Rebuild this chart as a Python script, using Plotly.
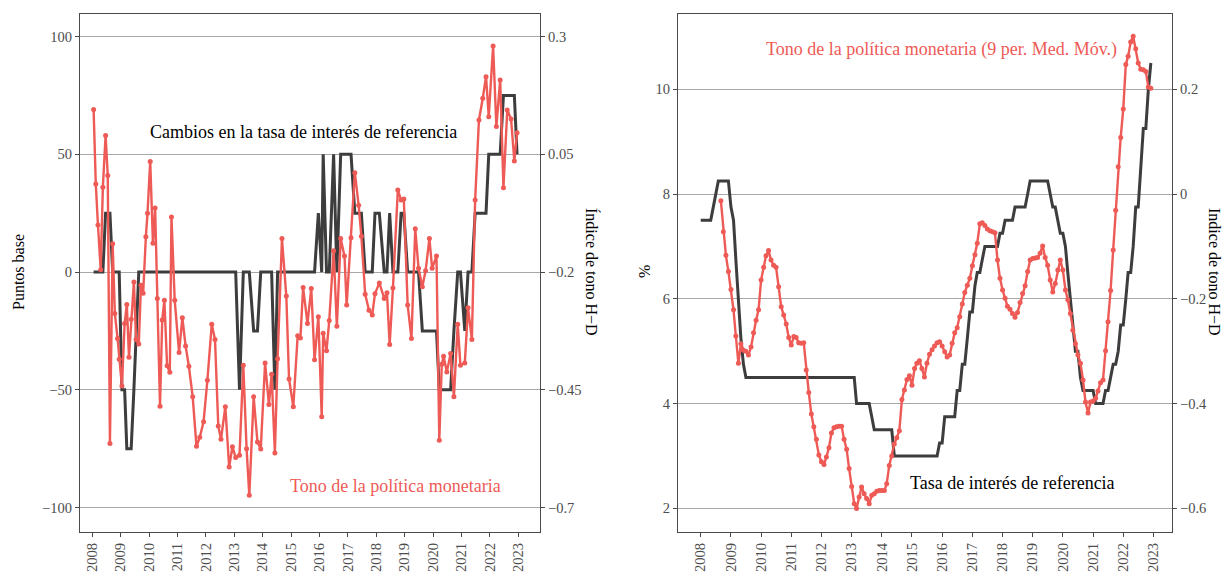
import plotly.graph_objects as go
import pandas as pd

# ---------------- data ----------------
# Left panel: monetary-policy announcement dates
meeting_dates = [
    "2008-01-18", "2008-02-15", "2008-03-14", "2008-04-18", "2008-05-16", "2008-06-20",
    "2008-07-18", "2008-08-15", "2008-09-19", "2008-10-17", "2008-11-21", "2008-12-12",
    "2009-01-16", "2009-02-20", "2009-03-20", "2009-04-17", "2009-05-15", "2009-06-19",
    "2009-07-17", "2009-08-21", "2009-09-18", "2009-10-16", "2009-11-20", "2009-12-11",
    "2010-01-15", "2010-02-19", "2010-03-19", "2010-04-16", "2010-05-21", "2010-06-18",
    "2010-07-16", "2010-08-20", "2010-09-24", "2010-10-15", "2010-11-26",
    "2011-01-21", "2011-03-04", "2011-04-15", "2011-05-27", "2011-07-15", "2011-09-02",
    "2011-10-14", "2011-12-02",
    "2012-01-20", "2012-03-16", "2012-04-27", "2012-06-08", "2012-07-13", "2012-09-07",
    "2012-10-26", "2012-12-07",
    "2013-01-18", "2013-03-08", "2013-04-26", "2013-06-07", "2013-07-12", "2013-09-06",
    "2013-10-25", "2013-12-06",
    "2014-01-31", "2014-03-21", "2014-04-25", "2014-06-06", "2014-07-11", "2014-09-05",
    "2014-10-31", "2014-12-05",
    "2015-01-29", "2015-03-26", "2015-04-30", "2015-06-04", "2015-07-30", "2015-09-17",
    "2015-10-29", "2015-12-17",
    "2016-01-29", "2016-02-17", "2016-03-31", "2016-05-05", "2016-06-30", "2016-08-11",
    "2016-09-29", "2016-11-17", "2016-12-15",
    "2017-02-09", "2017-03-30", "2017-05-18", "2017-06-22", "2017-08-10", "2017-09-28",
    "2017-11-09", "2017-12-14",
    "2018-02-08", "2018-04-12", "2018-05-17", "2018-06-21", "2018-08-02", "2018-10-04",
    "2018-11-15", "2018-12-20",
    "2019-02-07", "2019-03-28", "2019-05-16", "2019-06-27", "2019-08-15", "2019-09-26",
    "2019-11-14", "2019-12-19",
    "2020-02-13", "2020-03-20", "2020-04-21", "2020-05-14", "2020-06-25", "2020-08-13",
    "2020-09-24", "2020-11-12", "2020-12-17",
    "2021-02-11", "2021-03-25", "2021-05-13", "2021-06-24", "2021-08-12", "2021-09-30",
    "2021-11-11", "2021-12-16",
    "2022-02-10", "2022-03-24", "2022-05-12", "2022-06-23", "2022-08-11", "2022-09-29",
    "2022-11-10", "2022-12-15",
]

# Change in the reference rate decided at each announcement (basis points)
rate_change_bp = [
    0, 0, 0, 0, 0, 25, 25, 25, 0, 0, 0, 0,
    -50, -50, -75, -75, -75, -50, -25, 0, 0, 0, 0, 0,
    0, 0, 0, 0, 0, 0, 0, 0, 0, 0, 0,
    0, 0, 0, 0, 0, 0, 0, 0,
    0, 0, 0, 0, 0, 0, 0, 0,
    0, -50, 0, 0, 0, -25, -25, 0,
    0, 0, 0, -50, 0, 0, 0, 0,
    0, 0, 0, 0, 0, 0, 0, 25,
    0, 50, 0, 0, 50, 0, 50, 50, 50,
    50, 25, 25, 25, 0, 0, 0, 25,
    25, 0, 0, 25, 0, 0, 25, 25,
    0, 0, 0, 0, -25, -25, -25, -25,
    -25, -50, -50, -50, -50, -50, -25, 0, 0,
    -25, 0, 0, 25, 25, 25, 25, 50,
    50, 50, 50, 75, 75, 75, 75, 50,
]

# Hawkish-dovish tone index at each announcement
tone_index = [
    0.145, -0.013, -0.100, -0.195, -0.020, 0.090, 0.005, -0.564, -0.140, -0.288, -0.341, -0.385,
    -0.442, -0.309, -0.269, -0.381, -0.300, -0.221, -0.343, -0.353, -0.228, -0.245, -0.125, -0.075,
    0.035, -0.139, -0.064, -0.256, -0.485, -0.302, -0.260, -0.399, -0.413, -0.083, -0.260,
    -0.371, -0.297, -0.357, -0.400, -0.465, -0.570, -0.551, -0.518,
    -0.430, -0.311, -0.343, -0.527, -0.555, -0.486, -0.614, -0.571,
    -0.594, -0.589, -0.398, -0.575, -0.674, -0.465, -0.561, -0.576,
    -0.393, -0.481, -0.417, -0.584, -0.384, -0.129, -0.251, -0.427,
    -0.486, -0.335, -0.340, -0.233, -0.309, -0.235, -0.386, -0.295,
    -0.507, -0.330, -0.367, -0.303, -0.155, -0.315, -0.129, -0.166, -0.270,
    -0.127, 0.011, -0.058, -0.124, -0.247, -0.281, -0.291, -0.246,
    -0.223, -0.256, -0.244, -0.354, -0.234, -0.026, -0.047, -0.045,
    -0.270, -0.341, -0.108, -0.192, -0.231, -0.197, -0.129, -0.192,
    -0.166, -0.557, -0.396, -0.379, -0.412, -0.373, -0.465, -0.311, -0.398,
    -0.393, -0.276, -0.343, -0.047, 0.123, 0.169, 0.215, 0.130,
    0.280, 0.109, 0.208, -0.021, 0.144, 0.125, 0.036, 0.096,
]

# Right panel: monthly data, Jan 2008 - Dec 2022
month_start = "2008-01-01"
month_end = "2022-12-01"
policy_rate = [
    7.5, 7.5, 7.5, 7.5, 7.5, 7.75, 8.0, 8.25, 8.25, 8.25, 8.25, 8.25,
    7.75, 7.5, 6.75, 6.0, 5.25, 4.75, 4.5, 4.5, 4.5, 4.5, 4.5, 4.5,
    4.5, 4.5, 4.5, 4.5, 4.5, 4.5, 4.5, 4.5, 4.5, 4.5, 4.5, 4.5,
    4.5, 4.5, 4.5, 4.5, 4.5, 4.5, 4.5, 4.5, 4.5, 4.5, 4.5, 4.5,
    4.5, 4.5, 4.5, 4.5, 4.5, 4.5, 4.5, 4.5, 4.5, 4.5, 4.5, 4.5,
    4.5, 4.5, 4.0, 4.0, 4.0, 4.0, 4.0, 4.0, 3.75, 3.5, 3.5, 3.5,
    3.5, 3.5, 3.5, 3.5, 3.5, 3.0, 3.0, 3.0, 3.0, 3.0, 3.0, 3.0,
    3.0, 3.0, 3.0, 3.0, 3.0, 3.0, 3.0, 3.0, 3.0, 3.0, 3.0, 3.25,
    3.25, 3.75, 3.75, 3.75, 3.75, 3.75, 4.25, 4.25, 4.75, 4.75, 5.25, 5.75,
    5.75, 6.25, 6.5, 6.5, 6.75, 7.0, 7.0, 7.0, 7.0, 7.0, 7.0, 7.25,
    7.25, 7.5, 7.5, 7.5, 7.5, 7.75, 7.75, 7.75, 7.75, 7.75, 8.0, 8.25,
    8.25, 8.25, 8.25, 8.25, 8.25, 8.25, 8.25, 8.0, 7.75, 7.75, 7.5, 7.25,
    7.25, 7.0, 6.5, 6.0, 5.5, 5.0, 5.0, 4.5, 4.25, 4.25, 4.25, 4.25,
    4.25, 4.0, 4.0, 4.0, 4.0, 4.25, 4.25, 4.5, 4.75, 4.75, 5.0, 5.5,
    5.5, 6.0, 6.5, 6.5, 7.0, 7.75, 7.75, 8.5, 9.25, 9.25, 10.0, 10.5,
]

# 9-period moving average of the tone index, Sep 2008 - Dec 2022
tone_ma9 = [
    -0.013, -0.072, -0.117, -0.148,
    -0.182, -0.221, -0.271, -0.323, -0.286, -0.298, -0.300, -0.307, -0.292, -0.265, -0.241, -0.221,
    -0.164, -0.140, -0.118, -0.108, -0.126, -0.136, -0.140, -0.177, -0.215, -0.231, -0.248, -0.274,
    -0.288, -0.272, -0.274, -0.284, -0.285, -0.284, -0.336, -0.379, -0.420, -0.444, -0.468, -0.498,
    -0.511, -0.516, -0.502, -0.484, -0.456, -0.446, -0.444, -0.443, -0.443, -0.468, -0.487, -0.524,
    -0.558, -0.591, -0.600, -0.578, -0.559, -0.572, -0.581, -0.591, -0.575, -0.572, -0.567, -0.566,
    -0.566, -0.566, -0.553, -0.518, -0.500, -0.477, -0.465, -0.452, -0.392, -0.374, -0.354, -0.347,
    -0.365, -0.333, -0.323, -0.318, -0.333, -0.349, -0.323, -0.306, -0.297, -0.290, -0.284, -0.282,
    -0.290, -0.301, -0.311, -0.307, -0.285, -0.265, -0.255, -0.234, -0.210, -0.188, -0.174, -0.161,
    -0.137, -0.116, -0.094, -0.057, -0.055, -0.060, -0.067, -0.070, -0.072, -0.074, -0.126, -0.161,
    -0.183, -0.199, -0.214, -0.220, -0.228, -0.235, -0.226, -0.207, -0.190, -0.175, -0.148, -0.126,
    -0.123, -0.122, -0.121, -0.113, -0.099, -0.121, -0.136, -0.164, -0.187, -0.171, -0.145, -0.126,
    -0.145, -0.183, -0.202, -0.228, -0.260, -0.286, -0.307, -0.323, -0.355, -0.397, -0.418, -0.397,
    -0.395, -0.390, -0.376, -0.360, -0.355, -0.299, -0.244, -0.184, -0.107, -0.031, 0.052, 0.108,
    0.162, 0.247, 0.263, 0.290, 0.301, 0.277, 0.250, 0.238, 0.237, 0.234, 0.204, 0.202,
]

year_labels = [str(y) for y in range(2008, 2024)]
left_ticks = [-100, -50, 0, 50, 100]
left_tick_text = ["\u2212100", "\u221250", "0", "50", "100"]
left_tone_ticks = [-0.7, -0.45, -0.2, 0.05, 0.3]
left_tone_text = ["\u22120.7", "\u22120.45", "\u22120.2", "0.05", "0.3"]
right_ticks = [2, 4, 6, 8, 10]
right_tone_ticks = [-0.6, -0.4, -0.2, 0, 0.2]
right_tone_text = ["\u22120.6", "\u22120.4", "\u22120.2", "0", "0.2"]

# ---------------- style ----------------
W, H = 1224, 572
RED = "#EE5A55"
DARK = "#3D3D3D"
GRID = "#A8A8A8"
FRAME = "#4A4A4A"
TICKC = "#4D4D4D"
FONT = "Liberation Serif, Times New Roman, serif"

monthly_dates = pd.date_range(month_start, month_end, freq="MS")
tone_dates = monthly_dates[len(policy_rate) - len(tone_ma9):]
year_tickvals = [f"{y}-01-01" for y in year_labels]


def px_x(p):
    return p / W


def px_y(p):
    return (H - p) / H


fig = go.Figure()
fig.add_trace(go.Scatter(x=meeting_dates, y=rate_change_bp, xaxis="x", yaxis="y",
                         mode="lines", line=dict(color=DARK, width=3), hoverinfo="skip"))
fig.add_trace(go.Scatter(x=meeting_dates, y=tone_index, xaxis="x", yaxis="y2",
                         mode="lines+markers", line=dict(color=RED, width=2.4),
                         marker=dict(color=RED, size=5), hoverinfo="skip"))
fig.add_trace(go.Scatter(x=monthly_dates, y=policy_rate, xaxis="x2", yaxis="y3",
                         mode="lines", line=dict(color=DARK, width=3), hoverinfo="skip"))
fig.add_trace(go.Scatter(x=tone_dates, y=tone_ma9, xaxis="x2", yaxis="y4",
                         mode="lines+markers", line=dict(color=RED, width=2.4),
                         marker=dict(color=RED, size=5), hoverinfo="skip"))

ydom = [px_y(532), px_y(14)]
tickfont = dict(family=FONT, size=14.5, color=TICKC)
common_x = dict(type="date", tickvals=year_tickvals, ticktext=year_labels, tickangle=-90,
                ticks="outside", ticklen=4, tickcolor=FRAME, tickwidth=1,
                showline=True, linecolor=FRAME, linewidth=1.2, mirror=True,
                showgrid=False, zeroline=False, tickfont=tickfont)
common_y = dict(ticks="outside", ticklen=4, tickcolor=FRAME, tickwidth=1,
                showline=True, linecolor=FRAME, linewidth=1.2, zeroline=False,
                tickfont=tickfont)

fig.update_layout(
    width=W, height=H,
    margin=dict(l=0, r=0, t=0, b=0),
    paper_bgcolor="white", plot_bgcolor="white",
    showlegend=False,
    font=dict(family=FONT, size=14, color="black"),
    xaxis=dict(domain=[px_x(80), px_x(540)], anchor="y",
               range=["2007-07-27", "2023-10-06"], **common_x),
    yaxis=dict(domain=ydom, anchor="x", range=[-110.4, 109.6],
               tickvals=left_ticks, ticktext=left_tick_text,
               showgrid=True, gridcolor=GRID, gridwidth=1, mirror=True, **common_y),
    yaxis2=dict(overlaying="y", side="right", anchor="x", range=[-0.752, 0.348],
                tickvals=left_tone_ticks, ticktext=left_tone_text, showgrid=False, **common_y),
    xaxis2=dict(domain=[px_x(678), px_x(1172)], anchor="y3",
                range=["2007-04-01", "2023-08-14"], **common_x),
    yaxis3=dict(domain=ydom, anchor="x2", range=[1.55, 11.435],
                tickvals=right_ticks, showgrid=True, gridcolor=GRID, gridwidth=1,
                mirror=True, **common_y),
    yaxis4=dict(overlaying="y3", side="right", anchor="x2", range=[-0.645, 0.3435],
                tickvals=right_tone_ticks, ticktext=right_tone_text, showgrid=False, **common_y),
)

ann_font = dict(family=FONT, size=18)
title_font = dict(family=FONT, size=16, color="black")
annotations = [
    dict(text="Cambios en la tasa de interés de referencia", x=px_x(303), y=px_y(132),
         font=dict(color="black", **ann_font)),
    dict(text="Tono de la política monetaria", x=px_x(395), y=px_y(486),
         font=dict(color=RED, **ann_font)),
    dict(text="Tono de la política monetaria (9 per. Med. Móv.)", x=px_x(941), y=px_y(50),
         font=dict(color=RED, **ann_font)),
    dict(text="Tasa de interés de referencia", x=px_x(1013), y=px_y(483),
         font=dict(color="black", **ann_font)),
    dict(text="Puntos base", x=px_x(18), y=px_y(272), textangle=-90, font=title_font),
    dict(text="Índice de tono H\u2212D", x=px_x(592), y=px_y(272), textangle=90, font=title_font),
    dict(text="%", x=px_x(644), y=px_y(272), textangle=-90, font=title_font),
    dict(text="Indice de tono H\u2212D", x=px_x(1215), y=px_y(272), textangle=90, font=title_font),
]
for a in annotations:
    a.update(xref="paper", yref="paper", showarrow=False, xanchor="center", yanchor="middle")
fig.update_layout(annotations=annotations)

fig.write_html("out.html")
